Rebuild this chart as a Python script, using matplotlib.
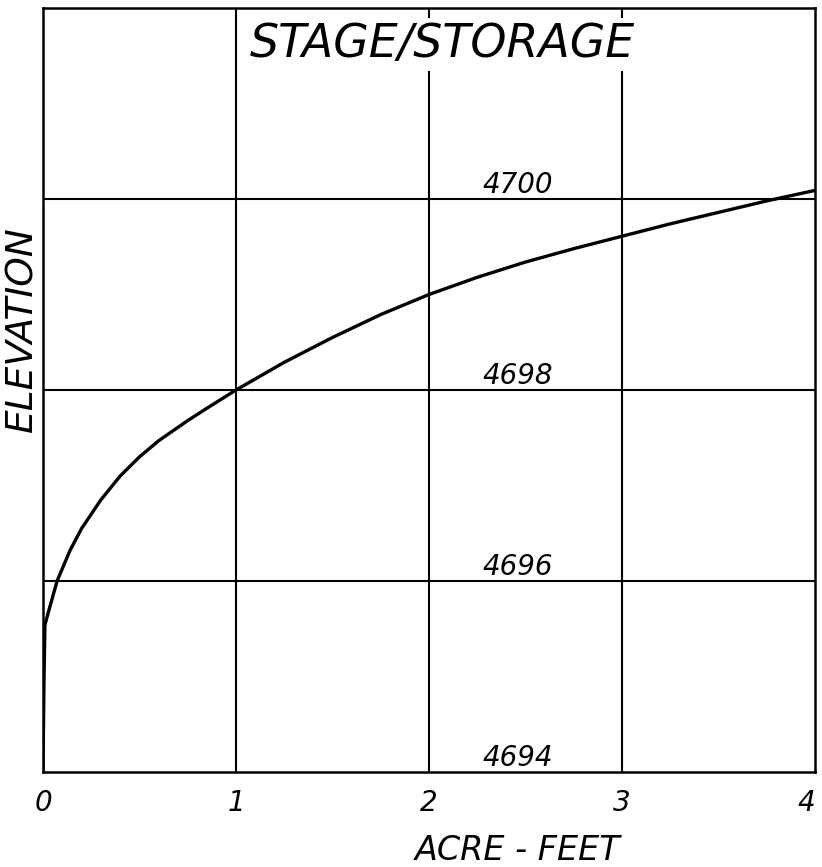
import matplotlib
matplotlib.use("Agg")
import matplotlib.pyplot as plt

# values
storage = [0.0, 0.005, 0.01, 0.026, 0.073, 0.14, 0.2, 0.3, 0.4, 0.5, 0.6,
           0.75, 0.85, 1.0, 1.25, 1.5, 1.75, 2.0, 2.25, 2.5, 2.75, 3.0,
           3.25, 3.5, 3.75, 4.0]
elevation = [4694.0, 4694.95, 4695.54, 4695.66, 4696.0, 4696.32, 4696.55,
             4696.85, 4697.1, 4697.3, 4697.47, 4697.68, 4697.81, 4698.0,
             4698.29, 4698.55, 4698.79, 4699.0, 4699.18, 4699.34, 4699.48,
             4699.61, 4699.74, 4699.86, 4699.98, 4700.09]

x_ticks = [0, 1, 2, 3, 4]
x_labels = ["0", "1", "2", "3", "4"]
y_levels = [4694, 4696, 4698, 4700]
y_labels = ["4694", "4696", "4698", "4700"]

fig = plt.figure(figsize=(8.22, 8.67), dpi=100)
ax = fig.add_axes([43 / 822, 95 / 867, 772 / 822, 764 / 867])

ax.set_xlim(0, 4)
ax.set_ylim(4694, 4702)

# grid
for xv in x_ticks[1:-1]:
    ax.axvline(xv, color="black", lw=1.5, zorder=1)
for yv in y_levels[1:]:
    ax.axhline(yv, color="black", lw=1.5, zorder=1)

# curve
ax.plot(storage, elevation, color="black", lw=2.4, solid_capstyle="round",
        solid_joinstyle="round", zorder=3)

# level labels written on the sheet
for yv, lab in zip(y_levels, y_labels):
    ax.text(2.46, yv + 0.06, lab, ha="center", va="baseline", fontsize=20,
            style="italic", color="black", zorder=4)

# title sits inside the frame, blanking the grid lines behind it
ax.text(2.07, 4701.62, "STAGE/STORAGE", ha="center", va="center",
        fontsize=33, style="italic", color="black", zorder=2,
        bbox=dict(facecolor="white", edgecolor="none", pad=3))

for s in ax.spines.values():
    s.set_linewidth(1.8)
    s.set_zorder(6)

ax.set_xticks(x_ticks)
ax.set_xticklabels(x_labels, fontsize=20, style="italic")
ax.get_xticklabels()[-1].set_ha("right")
ax.set_yticks([])
ax.tick_params(axis="x", length=0, pad=12)

fig.text(518 / 822, 1 - 850 / 867, "ACRE - FEET", ha="center", va="center",
         fontsize=24, style="italic")
fig.text(22 / 822, 1 - 329 / 867, "ELEVATION", ha="center", va="center",
         rotation=90, fontsize=27, style="italic")

fig.savefig("out.png", dpi=100)
